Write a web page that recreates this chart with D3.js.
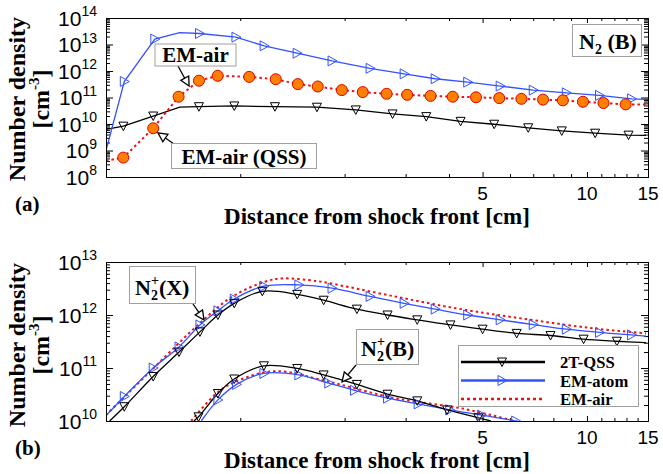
<!DOCTYPE html>
<html>
<head>
<meta charset="utf-8">
<script src="https://cdn.jsdelivr.net/npm/d3@7"></script>
<style>
  body { margin: 0; background: #fff; }
  svg { display: block; }
</style>
</head>
<body>
<div id="chart"></div>
<script>
/* Number density behind the shock front - two log-log panels */

// x axis (cm), shared by both panels
const xDomain = [0.41, 15];
const xTicks = [1, 2, 3, 4, 5, 6, 7, 8, 9, 10, 11, 12, 13, 14, 15];
const xTickLabels = [5, 10, 15];

// (a) N2(B): [x cm, density cm^-3]
const aAtom = [[0.41, 1.0e9], [0.463, 4.0e11], [0.567, 1.6e13], [0.669, 2.8e13], [0.763, 2.6e13], [0.972, 1.9e13],
  [1.172, 8.9e12], [1.459, 4.7e12], [1.84, 2.4e12], [2.369, 1.26e12], [2.97, 7.8e11], [3.65, 5.1e11], [4.53, 3.8e11],
  [5.62, 2.7e11], [7.0, 1.9e11], [8.72, 1.5e11], [10.87, 1.2e11], [13.45, 8.9e10], [14.8, 8.5e10]];
const aAtomBare = [0.669];
const aAir = [[0.41, 4.1e8], [0.46, 5.4e8], [0.561, 6.9e9], [0.664, 1.07e11], [0.76, 4.3e11], [0.861, 6.6e11],
  [1.061, 6.0e11], [1.266, 4.9e11], [1.466, 3.2e11], [1.673, 2.6e11], [1.964, 1.9e11], [2.256, 1.6e11], [2.643, 1.38e11],
  [3.03, 1.26e11], [3.54, 1.15e11], [4.10, 1.07e11], [4.786, 1.02e11], [5.585, 9.5e10], [6.47, 8.9e10], [7.47, 8.3e10],
  [8.52, 7.8e10], [9.74, 6.9e10], [11.16, 6.2e10], [12.93, 5.5e10], [14.8, 5.5e10]];
const aQss = [[0.41, 6.3e9], [0.46, 8.3e9], [0.561, 2.0e10], [0.669, 4.3e10], [0.76, 4.5e10], [0.961, 4.8e10],
  [1.259, 4.5e10], [1.664, 4.3e10], [2.154, 3.4e10], [2.75, 2.4e10], [3.44, 1.9e10], [4.32, 1.26e10], [5.40, 9.8e9],
  [6.77, 7.2e9], [8.46, 5.5e9], [10.56, 4.5e9], [13.18, 3.8e9], [14.8, 3.7e9]];
const aQssBare = [0.669];

// (b) N2+(X) and N2+(B)
const bAirX = [[0.41, 1.29e10], [0.561, 9.8e10], [0.763, 6.9e11], [0.95, 2.24e12], [1.185, 4.3e12], [1.32, 4.9e12],
  [1.648, 4.4e12], [1.80, 4.0e12], [2.79, 2.24e12], [4.33, 1.29e12], [6.73, 8.3e11], [10.45, 5.6e11], [14.8, 4.5e11]];
const bAtomX = [[0.41, 1.26e10], [0.463, 2.9e10], [0.561, 1.0e11], [0.666, 2.5e11], [0.765, 6.5e11], [0.862, 1.2e12],
  [0.961, 2.0e12], [1.17, 3.5e12], [1.476, 3.7e12], [1.84, 3.2e12], [2.369, 2.24e12], [2.97, 1.66e12], [3.65, 1.29e12],
  [4.53, 1.0e12], [5.62, 8.1e11], [7.0, 6.6e11], [8.72, 5.4e11], [10.87, 4.7e11], [13.45, 4.2e11], [14.8, 4.0e11]];
const bQssX = [[0.42, 1.0e10], [0.463, 1.86e10], [0.561, 6.9e10], [0.666, 2.0e11], [0.765, 4.8e11], [0.862, 1.0e12],
  [0.961, 1.66e12], [1.158, 2.8e12], [1.46, 2.45e12], [1.74, 1.9e12], [2.17, 1.29e12], [2.66, 1.0e12], [3.24, 8.1e11],
  [4.04, 6.5e11], [5.0, 5.4e11], [6.27, 4.5e11], [7.85, 4.1e11], [9.78, 3.5e11], [12.2, 3.2e11], [14.8, 3.0e11]];
const bAirB = [[0.722, 1.0e10], [0.862, 3.5e10], [0.993, 5.9e10], [1.265, 8.7e10], [1.80, 5.5e10], [2.79, 2.7e10],
  [4.33, 1.74e10], [6.2, 1.0e10]];
const bAtomB = [[0.772, 1.0e10], [0.862, 2.5e10], [0.976, 4.9e10], [1.17, 7.9e10], [1.476, 7.4e10], [1.8, 5.2e10],
  [2.135, 3.8e10], [2.66, 2.7e10], [3.26, 2.1e10], [4.02, 1.62e10], [4.97, 1.29e10], [6.23, 1.0e10], [6.4, 9.6e9]];
const bQssB = [[0.735, 1.0e10], [0.758, 1.2e10], [0.862, 3.3e10], [0.961, 6.2e10], [1.17, 1.1e11], [1.46, 9.8e10],
  [1.74, 7.4e10], [2.17, 4.9e10], [2.66, 3.2e10], [3.24, 2.4e10], [3.95, 1.62e10], [4.86, 1.15e10], [5.28, 1.0e10]];

const legendNames = ['2T-QSS', 'EM-atom', 'EM-air'];

// Styles
const serif = '"Liberation Serif", "Times New Roman", serif';
const sans = '"Liberation Sans", Arial, Helvetica, sans-serif';
const colors = { qss: '#000000', atom: '#3352ff', air: '#ee1111', circle: '#ff8000' };

const plotLeft = 106, plotRight = 648;
const svg = d3.select('#chart').append('svg')
  .attr('width', 663)
  .attr('height', 474);

const x = d3.scaleLog().domain(xDomain).range([plotLeft, plotRight]);

const shapes = {
  down: 'M-4.5,-4L4.5,-4L0,4.5Z',
  right: 'M-4,-5L-4,5L5,0Z'
};

const styles = {
  qss: { stroke: colors.qss, width: 1.3, dash: null, marker: 'down' },
  atom: { stroke: colors.atom, width: 1.3, dash: null, marker: 'right' },
  air: { stroke: colors.air, width: 2, dash: '2.5,3', marker: null },
  airDots: { stroke: colors.air, width: 2, dash: '2.5,3', marker: 'circle' }
};

const panels = [
  {
    id: 'a', top: 18, bottom: 177, yDomain: [1e8, 1e14], curve: d3.curveLinear,
    label: '(a)', labelY: 211, ylabY: 99,
    series: [
      { data: aQss, bare: aQssBare, style: styles.qss },
      { data: aAtom, bare: aAtomBare, style: styles.atom },
      { data: aAir, bare: [], style: styles.airDots }
    ]
  },
  {
    id: 'b', top: 262, bottom: 421, yDomain: [1e10, 1e13], curve: d3.curveCatmullRom.alpha(0.5),
    label: '(b)', labelY: 455, ylabY: 345,
    series: [
      { data: bAirX, bare: [], style: styles.air },
      { data: bAtomX, bare: [], style: styles.atom },
      { data: bQssX, bare: [], style: styles.qss },
      { data: bAirB, bare: [], style: styles.air },
      { data: bAtomB, bare: [], style: styles.atom },
      { data: bQssB, bare: [], style: styles.qss }
    ]
  }
];

function drawMarker(sel, type, color) {
  if (type === 'circle') {
    sel.append('circle').attr('r', 5.5)
      .attr('fill', colors.circle).attr('stroke', '#e00000').attr('stroke-width', 1);
  } else {
    sel.append('path').attr('d', shapes[type])
      .attr('fill', 'none').attr('stroke', color).attr('stroke-width', 1);
  }
}

function arrow(g, x1, y1, x2, y2) {
  const dx = x2 - x1, dy = y2 - y1, len = Math.hypot(dx, dy);
  const ux = dx / len, uy = dy / len, L = 9, w = 4.5;
  const bx = x2 - ux * L, by = y2 - uy * L;
  g.append('line')
    .attr('x1', x1).attr('y1', y1).attr('x2', bx).attr('y2', by)
    .attr('stroke', '#000').attr('stroke-width', 1.3);
  g.append('path')
    .attr('d', `M${x2},${y2}L${bx - uy * w},${by + ux * w}L${bx + uy * w},${by - ux * w}Z`)
    .attr('fill', '#fff').attr('stroke', '#000').attr('stroke-width', 1.3);
}

function box(g, x0, y0, x1, y1) {
  g.append('rect')
    .attr('x', x0).attr('y', y0).attr('width', x1 - x0).attr('height', y1 - y0)
    .attr('fill', '#fff').attr('stroke', '#a0a0a0').attr('stroke-width', 1);
}

const scales = {};

panels.forEach(p => {
  const y = d3.scaleLog().domain(p.yDomain).range([p.bottom, p.top]);
  scales[p.id] = y;
  const g = svg.append('g');

  svg.append('clipPath').attr('id', 'clip-' + p.id)
    .append('rect')
    .attr('x', plotLeft).attr('y', p.top)
    .attr('width', plotRight - plotLeft).attr('height', p.bottom - p.top);

  // Ticks (inward, on all four sides)
  const e0 = Math.round(Math.log10(p.yDomain[0]));
  const e1 = Math.round(Math.log10(p.yDomain[1]));
  const yMajor = d3.range(e0, e1 + 1).map(e => Math.pow(10, e));
  const yMinor = d3.range(e0, e1).flatMap(e => d3.range(2, 10).map(k => k * Math.pow(10, e)));
  const xMajor = xTickLabels;
  const xMinor = xTicks.filter(v => !xTickLabels.includes(v));

  const axes = [
    [d3.axisLeft(y).tickValues(yMajor).tickSize(-7), `translate(${plotLeft},0)`],
    [d3.axisLeft(y).tickValues(yMinor).tickSize(-4), `translate(${plotLeft},0)`],
    [d3.axisRight(y).tickValues(yMajor).tickSize(-7), `translate(${plotRight},0)`],
    [d3.axisRight(y).tickValues(yMinor).tickSize(-4), `translate(${plotRight},0)`],
    [d3.axisBottom(x).tickValues(xMajor).tickSize(-5), `translate(0,${p.bottom})`],
    [d3.axisBottom(x).tickValues(xMinor).tickSize(-3), `translate(0,${p.bottom})`],
    [d3.axisTop(x).tickValues(xMajor).tickSize(-5), `translate(0,${p.top})`],
    [d3.axisTop(x).tickValues(xMinor).tickSize(-3), `translate(0,${p.top})`]
  ];
  axes.forEach(([ax, tr]) => {
    const a = g.append('g').attr('transform', tr).call(ax.tickFormat('').tickSizeOuter(0));
    a.select('.domain').remove();
    a.selectAll('line').attr('stroke', '#000').attr('stroke-width', 1);
  });

  // Series
  const line = d3.line().x(d => x(d[0])).y(d => y(d[1])).curve(p.curve);
  const plot = g.append('g').attr('clip-path', `url(#clip-${p.id})`);
  p.series.forEach(s => {
    plot.append('path')
      .datum(s.data)
      .attr('d', line)
      .attr('fill', 'none')
      .attr('stroke', s.style.stroke)
      .attr('stroke-width', s.style.width)
      .attr('stroke-dasharray', s.style.dash);
  });
  p.series.forEach(s => {
    if (!s.style.marker) return;
    const pts = s.data.filter((d, i) => i > 0 && i < s.data.length - 1 && !s.bare.includes(d[0]));
    plot.selectAll(null)
      .data(pts)
      .enter()
      .append('g')
      .attr('transform', d => `translate(${x(d[0])},${y(d[1])})`)
      .each(function() { drawMarker(d3.select(this), s.style.marker, s.style.stroke); });
  });

  // Frame
  g.append('rect')
    .attr('x', plotLeft).attr('y', p.top)
    .attr('width', plotRight - plotLeft).attr('height', p.bottom - p.top)
    .attr('fill', 'none').attr('stroke', '#000').attr('stroke-width', 1)
    .attr('shape-rendering', 'crispEdges');

  // Y tick labels 10^n
  yMajor.forEach(v => {
    const t = g.append('text')
      .attr('x', 97).attr('y', y(v) + 7.5)
      .attr('text-anchor', 'end')
      .attr('font-family', sans).attr('fill', '#000');
    t.append('tspan').attr('font-size', 21).text('10');
    t.append('tspan').attr('font-size', 14).attr('dy', -9.5).text(Math.round(Math.log10(v)));
  });

  // X tick labels
  xTickLabels.forEach(v => {
    g.append('text')
      .attr('x', x(v)).attr('y', p.bottom + 22.5)
      .attr('text-anchor', 'middle')
      .attr('font-family', sans).attr('font-size', 19)
      .text(v);
  });

  // Axis titles
  g.append('text')
    .attr('x', 377).attr('y', p.bottom + 47)
    .attr('text-anchor', 'middle')
    .attr('font-family', serif).attr('font-size', 23).attr('font-weight', 'bold')
    .text('Distance from shock front [cm]');

  g.append('text')
    .attr('transform', `translate(25,${p.ylabY}) rotate(-90)`)
    .attr('text-anchor', 'middle')
    .attr('font-family', serif).attr('font-size', 24).attr('font-weight', 'bold')
    .text('Number density');

  const cm = g.append('text')
    .attr('transform', `translate(49,${p.ylabY}) rotate(-90)`)
    .attr('text-anchor', 'middle')
    .attr('font-family', serif).attr('font-size', 24).attr('font-weight', 'bold');
  cm.append('tspan').text('[cm');
  cm.append('tspan').attr('font-size', 15).attr('dy', -10).text('-3');
  cm.append('tspan').attr('dy', 10).text(']');

  g.append('text')
    .attr('x', 15).attr('y', p.labelY)
    .attr('font-family', serif).attr('font-size', 21).attr('font-weight', 'bold')
    .text(p.label);
});

// Annotations - panel (a)
const ya = scales.a, yb = scales.b;
const ann = svg.append('g')
  .attr('font-family', serif).attr('font-weight', 'bold').attr('fill', '#000');

arrow(ann, 178, 66, x(0.712), ya(2.7e11));
box(ann, 155, 44, 236, 66);
ann.append('text').attr('x', 195.5).attr('y', 61.5).attr('text-anchor', 'middle')
  .attr('font-size', 21).text('EM-air');

arrow(ann, 174, 144, x(0.579), ya(4.6e9));
box(ann, 171.5, 143.5, 316.5, 168.5);
ann.append('text').attr('x', 244).attr('y', 164).attr('text-anchor', 'middle')
  .attr('font-size', 21).text('EM-air (QSS)');

box(ann, 572.5, 24.5, 641.5, 56.5);
const n2b = ann.append('text').attr('x', 579).attr('y', 48.5).attr('font-size', 22);
n2b.append('tspan').text('N');
n2b.append('tspan').attr('font-size', 14).attr('dy', 5).text('2');
n2b.append('tspan').attr('dy', -5).text(' (B)');

// Annotations - panel (b)
function ionLabel(x0, base, state) {
  const t = ann.append('text').attr('x', x0).attr('y', base).attr('font-size', 22);
  t.append('tspan').text('N');
  t.append('tspan').attr('font-size', 14).attr('dy', -10).text('+');
  t.append('tspan').attr('font-size', 14).attr('dx', -8).attr('dy', 15).text('2');
  t.append('tspan').attr('dx', 1).attr('dy', -5).text('(' + state + ')');
}

arrow(ann, 193, 304, x(0.786), yb(8.1e11));
box(ann, 129.5, 266.5, 195.5, 303.5);
ionLabel(135, 295, 'X');

arrow(ann, 356, 365, x(1.966), yb(5.5e10));
box(ann, 356.5, 329.5, 418.5, 364.5);
ionLabel(361, 356, 'B');

// Legend
const legend = svg.append('g');
box(legend, 458.5, 345.5, 638.5, 406.5);
const legendStyles = [styles.qss, styles.atom, styles.air];
legendNames.forEach((name, i) => {
  const ly = 362 + i * 18.5;
  const st = legendStyles[i];
  legend.append('line')
    .attr('x1', 461).attr('x2', 545).attr('y1', ly).attr('y2', ly)
    .attr('stroke', st.stroke).attr('stroke-width', 2.5)
    .attr('stroke-dasharray', st.dash ? '3,3' : null);
  if (st.marker) {
    const m = legend.append('g').attr('transform', `translate(502,${ly})`);
    drawMarker(m, st.marker, st.stroke);
  }
  legend.append('text')
    .attr('x', 560).attr('y', ly + 6)
    .attr('font-family', serif).attr('font-size', 16.6).attr('font-weight', 'bold')
    .text(name);
});
</script>
</body>
</html>
